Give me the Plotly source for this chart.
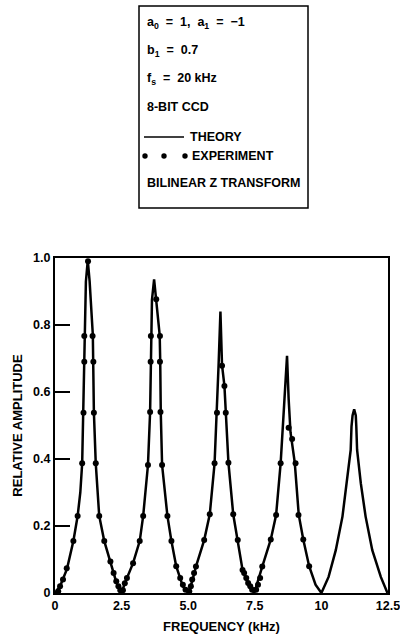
import plotly.graph_objects as go

# ---- data ----
theory_freq = [0.00, 0.19, 0.45, 0.69, 0.85, 0.95, 1.02, 1.06, 1.09, 1.10, 1.16, 1.23, 1.30, 1.42, 1.44, 1.46, 1.53, 1.66, 1.85, 2.08, 2.31, 2.50,
               2.62, 2.93, 3.18, 3.31, 3.49, 3.57, 3.60, 3.61, 3.64, 3.72, 3.80, 3.93, 3.95, 3.97, 4.02, 4.22, 4.37, 4.55, 4.80, 5.00,
               5.15, 5.29, 5.60, 5.81, 5.99, 6.08, 6.14, 6.21, 6.27, 6.36, 6.41, 6.51, 6.69, 6.86, 7.04, 7.29, 7.48,
               7.78, 8.10, 8.30, 8.47, 8.60, 8.71, 8.77, 8.84, 9.00, 9.15, 9.32, 9.54, 9.78, 10.00,
               10.27, 10.54, 10.79, 10.95, 11.10, 11.13, 11.17, 11.23, 11.29, 11.31, 11.34, 11.48, 11.66, 11.91, 12.23, 12.48]
theory_amp = [0.000, 0.020, 0.072, 0.155, 0.230, 0.300, 0.387, 0.540, 0.690, 0.770, 0.930, 0.993, 0.930, 0.770, 0.690, 0.540, 0.387, 0.230, 0.155, 0.090, 0.030, 0.000,
              0.029, 0.089, 0.155, 0.230, 0.382, 0.540, 0.690, 0.770, 0.875, 0.936, 0.875, 0.770, 0.690, 0.540, 0.382, 0.230, 0.155, 0.080, 0.020, 0.000,
              0.035, 0.079, 0.158, 0.235, 0.387, 0.538, 0.680, 0.840, 0.680, 0.618, 0.538, 0.389, 0.235, 0.158, 0.069, 0.019, 0.000,
              0.079, 0.160, 0.233, 0.387, 0.560, 0.708, 0.580, 0.480, 0.389, 0.233, 0.160, 0.080, 0.025, 0.000,
              0.048, 0.128, 0.228, 0.327, 0.427, 0.497, 0.530, 0.548, 0.530, 0.497, 0.427, 0.327, 0.228, 0.128, 0.048, 0.000]

exp_freq = [0.12, 0.19, 0.30, 0.44, 0.69, 0.85, 1.02, 1.07, 1.10, 1.10, 1.24, 1.41, 1.44, 1.46, 1.53, 1.66, 1.85, 2.08, 2.20, 2.30, 2.38, 2.45,
            2.55, 2.62, 2.70, 2.93, 3.18, 3.31, 3.49, 3.57, 3.59, 3.60, 3.80, 3.94, 3.94, 3.96, 4.02, 4.22, 4.37, 4.55, 4.70, 4.80, 4.90,
            5.04, 5.10, 5.15, 5.22, 5.29, 5.60, 5.81, 5.99, 6.08, 6.27, 6.36, 6.41, 6.51, 6.69, 6.86, 7.04, 7.10, 7.18, 7.25, 7.33, 7.40,
            7.55, 7.62, 7.70, 7.78, 8.10, 8.30, 8.47, 8.77, 8.90, 9.03, 9.14, 9.32, 9.54]
exp_amp = [0.005, 0.02, 0.04, 0.074, 0.155, 0.23, 0.387, 0.538, 0.69, 0.767, 0.99, 0.767, 0.69, 0.538, 0.387, 0.23, 0.155, 0.094, 0.06, 0.035, 0.02, 0.008,
           0.008, 0.029, 0.045, 0.089, 0.155, 0.23, 0.382, 0.54, 0.69, 0.767, 0.877, 0.767, 0.69, 0.54, 0.382, 0.23, 0.155, 0.08, 0.045, 0.025, 0.01,
           0.005, 0.02, 0.04, 0.06, 0.079, 0.158, 0.235, 0.387, 0.538, 0.678, 0.618, 0.538, 0.389, 0.235, 0.158, 0.069, 0.06, 0.045, 0.03, 0.02, 0.01,
           0.01, 0.025, 0.045, 0.079, 0.16, 0.233, 0.387, 0.493, 0.46, 0.387, 0.233, 0.16, 0.08]

x_tickvals = [0, 2.5, 5.0, 7.5, 10, 12.5]
x_ticktext = ["0", "2.5", "5.0", "7.5", "10", "12.5"]
y_tickvals = [0, 0.2, 0.4, 0.6, 0.8, 1.0]
y_ticktext = ["0", "0.2", "0.4", "0.6", "0.8", "1.0"]

legend_lines = ["a<sub>0</sub>  =  1,  a<sub>1</sub>  =  −1",
                "b<sub>1</sub>  =  0.7",
                "f<sub>s</sub>  =  20 kHz",
                "8-BIT CCD",
                "THEORY",
                "EXPERIMENT",
                "BILINEAR Z TRANSFORM"]

# ---- layout geometry (page pixels; body margin is removed below) ----
W, H = 400, 635
L, R, T, B = 55, 12, 258, 42
PW, PH = W - L - R, H - T - B


def px(x):
    return (x - L) / PW


def py(y):
    return (H - B - y) / PH


FONT = "Liberation Sans, Arial, sans-serif"

fig = go.Figure()
fig.add_trace(go.Scatter(x=theory_freq, y=theory_amp, mode="lines",
                         line=dict(color="black", width=2.5), cliponaxis=False,
                         showlegend=False, hoverinfo="skip"))
fig.add_trace(go.Scatter(x=exp_freq, y=exp_amp, mode="markers",
                         marker=dict(color="black", size=6), cliponaxis=False,
                         showlegend=False))

fig.update_xaxes(range=[0, 12.5], tickvals=x_tickvals, ticktext=x_ticktext,
                 showgrid=False, zeroline=False, showline=True, linecolor="black",
                 linewidth=2, mirror=True, ticks="", ticklabeloverflow="allow",
                 tickfont=dict(family=FONT, size=12.5, color="black", weight="bold"),
                 title=dict(text="FREQUENCY (kHz)", standoff=10,
                            font=dict(family=FONT, size=13, color="black", weight="bold")))
fig.update_yaxes(range=[0, 1.0], tickvals=y_tickvals, ticktext=y_ticktext,
                 showgrid=False, zeroline=False, showline=True, linecolor="black",
                 linewidth=2, mirror=True, ticks="inside", ticklen=15, tickwidth=1.5,
                 tickcolor="black", ticklabeloverflow="allow",
                 tickfont=dict(family=FONT, size=12.5, color="black", weight="bold"),
                 title=dict(text="RELATIVE AMPLITUDE", standoff=8,
                            font=dict(family=FONT, size=13, color="black", weight="bold")))

shapes = [dict(type="rect", xref="paper", yref="paper",
               x0=px(139), x1=px(308), y0=py(208), y1=py(6),
               line=dict(color="black", width=1.5), fillcolor="white", layer="below"),
          dict(type="line", xref="paper", yref="paper",
               x0=px(144), x1=px(184), y0=py(137), y1=py(137),
               line=dict(color="black", width=1.5))]
for cx in (145, 164, 185):
    shapes.append(dict(type="circle", xref="paper", yref="paper",
                       x0=px(cx - 2.7), x1=px(cx + 2.7), y0=py(156 + 2.7), y1=py(156 - 2.7),
                       fillcolor="black", line=dict(color="black", width=0)))

ann_y = [23, 51, 79, 107, 137, 156, 183]
ann_x = [145, 145, 145, 145, 188, 190, 145]
annotations = []
for txt, xx, yy in zip(legend_lines, ann_x, ann_y):
    annotations.append(dict(text=txt, xref="paper", yref="paper", x=px(xx), y=py(yy),
                            xanchor="left", yanchor="middle", showarrow=False,
                            font=dict(family=FONT, size=12.5, color="black", weight="bold")))

fig.update_layout(width=W, height=H, margin=dict(l=L, r=R, t=T, b=B, autoexpand=False),
                  paper_bgcolor="white", plot_bgcolor="white",
                  shapes=shapes, annotations=annotations, showlegend=False)

fig.write_html("out.html", config={"displayModeBar": False},
               post_script="document.body.style.margin='0';document.body.style.overflow='hidden';")
